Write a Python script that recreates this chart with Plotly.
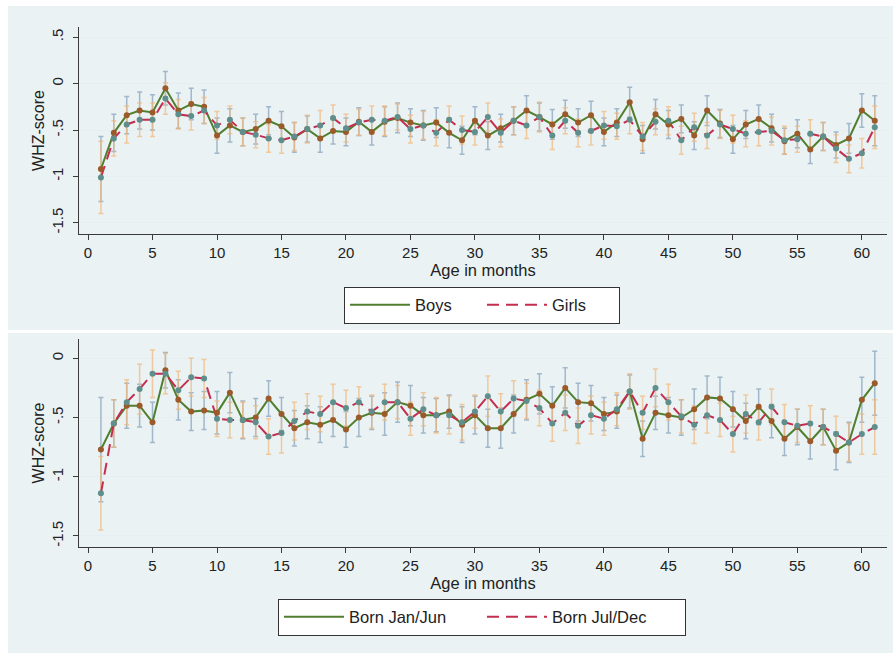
import plotly.graph_objects as go

months = list(range(1, 62))

boys = [-0.92, -0.53, -0.34, -0.29, -0.31, -0.05, -0.29, -0.22, -0.25, -0.56,
        -0.45, -0.52, -0.49, -0.40, -0.46, -0.58, -0.49, -0.59, -0.51, -0.52,
        -0.41, -0.52, -0.41, -0.37, -0.42, -0.45, -0.42, -0.53, -0.61, -0.40,
        -0.56, -0.48, -0.40, -0.29, -0.36, -0.44, -0.33, -0.42, -0.34, -0.52,
        -0.42, -0.20, -0.60, -0.33, -0.44, -0.38, -0.56, -0.29, -0.43, -0.60,
        -0.44, -0.38, -0.48, -0.62, -0.54, -0.71, -0.57, -0.66, -0.59, -0.29,
        -0.40]
boys_ci = [0.35, 0.20, 0.20, 0.20, 0.19, 0.18, 0.19, 0.17, 0.18, 0.19,
           0.18, 0.15, 0.16, 0.15, 0.16, 0.16, 0.14, 0.15, 0.14, 0.15,
           0.15, 0.14, 0.16, 0.16, 0.15, 0.16, 0.16, 0.16, 0.15, 0.15,
           0.15, 0.15, 0.15, 0.16, 0.15, 0.16, 0.15, 0.15, 0.15, 0.15,
           0.15, 0.16, 0.15, 0.16, 0.15, 0.15, 0.15, 0.16, 0.15, 0.15,
           0.15, 0.15, 0.15, 0.14, 0.15, 0.15, 0.15, 0.14, 0.16, 0.18,
           0.27]
girls = [-1.01, -0.59, -0.44, -0.39, -0.39, -0.16, -0.33, -0.35, -0.29, -0.45,
         -0.39, -0.52, -0.55, -0.59, -0.61, -0.57, -0.49, -0.45, -0.37, -0.48,
         -0.42, -0.39, -0.40, -0.36, -0.49, -0.45, -0.53, -0.39, -0.50, -0.52,
         -0.36, -0.53, -0.40, -0.45, -0.36, -0.56, -0.40, -0.53, -0.51, -0.45,
         -0.46, -0.39, -0.57, -0.41, -0.40, -0.61, -0.47, -0.56, -0.44, -0.49,
         -0.54, -0.52, -0.51, -0.61, -0.60, -0.54, -0.57, -0.70, -0.81, -0.75,
         -0.47]
girls_ci = [0.39, 0.19, 0.20, 0.18, 0.18, 0.17, 0.16, 0.15, 0.14, 0.15,
            0.15, 0.15, 0.14, 0.15, 0.14, 0.15, 0.15, 0.16, 0.14, 0.15,
            0.14, 0.15, 0.16, 0.14, 0.15, 0.15, 0.14, 0.15, 0.15, 0.14,
            0.15, 0.15, 0.15, 0.14, 0.16, 0.15, 0.14, 0.15, 0.15, 0.15,
            0.14, 0.15, 0.15, 0.14, 0.15, 0.15, 0.15, 0.14, 0.15, 0.15,
            0.14, 0.15, 0.15, 0.15, 0.14, 0.15, 0.15, 0.15, 0.15, 0.16,
            0.23]

janjun = [-0.77, -0.55, -0.40, -0.40, -0.54, -0.10, -0.35, -0.45, -0.44, -0.46,
          -0.29, -0.52, -0.50, -0.34, -0.47, -0.59, -0.54, -0.56, -0.52, -0.60,
          -0.50, -0.46, -0.47, -0.37, -0.40, -0.48, -0.48, -0.45, -0.56, -0.48,
          -0.59, -0.59, -0.47, -0.35, -0.30, -0.40, -0.25, -0.37, -0.38, -0.47,
          -0.45, -0.28, -0.68, -0.46, -0.48, -0.50, -0.43, -0.33, -0.34, -0.43,
          -0.53, -0.41, -0.53, -0.68, -0.58, -0.70, -0.58, -0.78, -0.71, -0.35,
          -0.21]
janjun_ci = [0.44, 0.20, 0.19, 0.18, 0.17, 0.15, 0.17, 0.16, 0.16, 0.18,
             0.17, 0.16, 0.16, 0.15, 0.14, 0.15, 0.14, 0.15, 0.14, 0.15,
             0.16, 0.14, 0.18, 0.17, 0.17, 0.15, 0.14, 0.14, 0.15, 0.16,
             0.16, 0.17, 0.16, 0.17, 0.17, 0.16, 0.17, 0.16, 0.15, 0.14,
             0.14, 0.14, 0.15, 0.14, 0.15, 0.15, 0.17, 0.18, 0.18, 0.15,
             0.15, 0.15, 0.14, 0.14, 0.15, 0.15, 0.15, 0.16, 0.17, 0.19,
             0.27]
juldec = [-1.14, -0.55, -0.37, -0.26, -0.13, -0.13, -0.27, -0.16, -0.17, -0.51,
          -0.52, -0.52, -0.54, -0.66, -0.63, -0.53, -0.45, -0.47, -0.37, -0.42,
          -0.37, -0.45, -0.37, -0.37, -0.51, -0.43, -0.48, -0.48, -0.54, -0.45,
          -0.32, -0.45, -0.34, -0.36, -0.42, -0.55, -0.46, -0.57, -0.48, -0.51,
          -0.43, -0.28, -0.46, -0.25, -0.37, -0.49, -0.56, -0.48, -0.52, -0.64,
          -0.47, -0.54, -0.41, -0.54, -0.57, -0.55, -0.58, -0.64, -0.71, -0.64,
          -0.58]
juldec_ci = [0.31, 0.20, 0.19, 0.21, 0.20, 0.17, 0.16, 0.16, 0.16, 0.15,
             0.15, 0.15, 0.14, 0.15, 0.17, 0.16, 0.15, 0.15, 0.15, 0.15,
             0.13, 0.14, 0.15, 0.14, 0.14, 0.14, 0.15, 0.16, 0.15, 0.14,
             0.17, 0.15, 0.15, 0.15, 0.15, 0.15, 0.15, 0.15, 0.16, 0.14,
             0.14, 0.15, 0.14, 0.16, 0.15, 0.14, 0.16, 0.15, 0.14, 0.15,
             0.16, 0.15, 0.15, 0.15, 0.14, 0.15, 0.15, 0.15, 0.16, 0.17,
             0.23]

y_ticks_top = [0.5, 0, -0.5, -1, -1.5]
y_labels_top = [".5", "0", "-.5", "-1", "-1.5"]
y_ticks_bot = [0, -0.5, -1, -1.5]
y_labels_bot = ["0", "-.5", "-1", "-1.5"]
x_ticks = list(range(0, 61, 5))

W, H = 893, 653
BG = "#eaf2f3"
GREEN = "#4f7f2f"
RED = "#c42d4e"
CI_A = "rgba(130,158,185,0.7)"
CI_B = "rgba(242,182,120,0.7)"
MK_A = "#9c5a2a"
MK_B = "#5f8f8c"
FONT = "Liberation Sans, Arial, sans-serif"

fig = go.Figure()


def add_panel(xa, ya, legend, s1, c1, n1, s2, c2, n2):
    xref = "x" if xa == 1 else "x%d" % xa
    yref = "y" if ya == 1 else "y%d" % ya
    for s, c, col in ((s1, c1, CI_A), (s2, c2, CI_B)):
        fig.add_trace(go.Scatter(
            x=months, y=s, mode="markers", xaxis=xref, yaxis=yref,
            marker=dict(size=1, color="rgba(0,0,0,0)"),
            error_y=dict(type="data", array=c, visible=True, color=col,
                         thickness=1.5, width=2.5),
            showlegend=False, hoverinfo="skip"))
    fig.add_trace(go.Scatter(
        x=months, y=s1, mode="lines", name=n1, xaxis=xref, yaxis=yref,
        line=dict(color=GREEN, width=2), legend=legend))
    fig.add_trace(go.Scatter(
        x=months, y=s2, mode="lines", name=n2, xaxis=xref, yaxis=yref,
        line=dict(color=RED, width=2, dash="12px,7px"), legend=legend))
    fig.add_trace(go.Scatter(
        x=months, y=s1, mode="markers", xaxis=xref, yaxis=yref,
        marker=dict(size=6, color=MK_A), showlegend=False))
    fig.add_trace(go.Scatter(
        x=months, y=s2, mode="markers", xaxis=xref, yaxis=yref,
        marker=dict(size=6, color=MK_B), showlegend=False))


add_panel(1, 1, "legend", boys, boys_ci, "Boys", girls, girls_ci, "Girls")
add_panel(2, 2, "legend2", janjun, janjun_ci, "Born Jan/Jun",
          juldec, juldec_ci, "Born Jul/Dec")

xdom = [79 / W, 887 / W]
top_dom = [1 - 234 / H, 1 - 27 / H]
bot_dom = [1 - 547 / H, 1 - 339 / H]

axis_common = dict(showline=True, linecolor="#3a3a3a", linewidth=1,
                   ticks="outside", ticklen=5, tickcolor="#3a3a3a",
                   tickfont=dict(size=15, color="#222"), zeroline=False,
                   automargin=False)

xa_common = dict(axis_common, range=[-0.7, 61.95], tickvals=x_ticks,
                 showgrid=False, domain=xdom,
                 title=dict(text="Age in months", font=dict(size=16.5, color="#222"),
                            standoff=2))

ya_title = dict(text="WHZ-score", font=dict(size=16, color="#222"), standoff=0)

fig.update_layout(
    width=W, height=H,
    margin=dict(l=0, r=0, t=0, b=0, autoexpand=False),
    paper_bgcolor="white", plot_bgcolor="white",
    font=dict(family=FONT, color="#222"),
    xaxis=dict(xa_common, anchor="y"),
    yaxis=dict(axis_common, domain=top_dom, anchor="x", range=[-1.62, 0.61],
               tickvals=y_ticks_top, ticktext=y_labels_top, tickangle=-90,
               showgrid=True, gridcolor="#e6eef1", gridwidth=1.2,
               ticklabelstandoff=4, title=ya_title),
    xaxis2=dict(xa_common, anchor="y2"),
    yaxis2=dict(axis_common, domain=bot_dom, anchor="x2", range=[-1.593, 0.163],
                tickvals=y_ticks_bot, ticktext=y_labels_bot, tickangle=-90,
                showgrid=True, gridcolor="#e6eef1", gridwidth=1.2,
                ticklabelstandoff=4, title=ya_title),
    legend=dict(orientation="h", x=482 / W, xanchor="center",
                y=1 - 305 / H, yanchor="middle", bgcolor="white",
                bordercolor="#333", borderwidth=1,
                font=dict(size=16.5, color="#222"), entrywidth=62,
                itemwidth=60),
    legend2=dict(orientation="h", x=482 / W, xanchor="center",
                 y=1 - 617 / H, yanchor="middle", bgcolor="white",
                 bordercolor="#333", borderwidth=1,
                 font=dict(size=16.5, color="#222"), entrywidth=128,
                 itemwidth=60),
    shapes=[
        dict(type="rect", xref="paper", yref="paper", x0=8 / W, x1=1.0,
             y0=1 - 330 / H, y1=1 - 6 / H, fillcolor=BG, line=dict(width=0),
             layer="below"),
        dict(type="rect", xref="paper", yref="paper", x0=8 / W, x1=1.0,
             y0=0, y1=1 - 333 / H, fillcolor=BG, line=dict(width=0),
             layer="below"),
    ],
)

fig.write_html("out.html",
               config={"displayModeBar": False},
               post_script="document.body.style.margin='0';"
                           "document.body.style.overflow='hidden';")
